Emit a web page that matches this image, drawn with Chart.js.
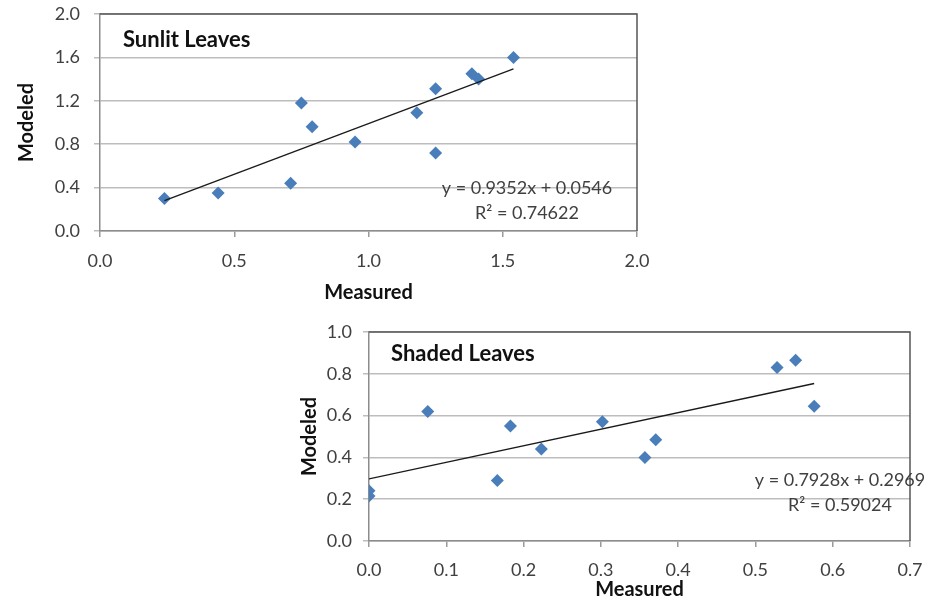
<!DOCTYPE html>
<html>
<head>
<meta charset="utf-8">
<script src="https://cdn.jsdelivr.net/npm/chart.js@4.4.1/dist/chart.umd.min.js"></script>
<style>
  body { margin: 0; background: #fff; }
  .box { position: absolute; }
  #sunBox { left: 0; top: 0; width: 660px; height: 305px; }
  #shadeBox { left: 290px; top: 320px; width: 653px; height: 284px; }
</style>
</head>
<body>
<div class="box" id="sunBox"><canvas id="sunChart"></canvas></div>
<div class="box" id="shadeBox"><canvas id="shadeChart"></canvas></div>
<script>
// sunlit leaves
const sunMeasured = [0.24, 0.44, 0.71, 0.75, 0.79, 0.95, 1.18, 1.25, 1.25, 1.385, 1.41, 1.54]
const sunModeled  = [0.30, 0.35, 0.44, 1.18, 0.96, 0.82, 1.09, 0.72, 1.31, 1.45, 1.40, 1.60]
const sunFit = [0.9352, 0.0546]
const sunXTicks = [0, 0.5, 1.0, 1.5, 2.0]
const sunYTicks = [0, 0.4, 0.8, 1.2, 1.6, 2.0]

// shaded leaves
const shadeMeasured = [0.0, 0.0, 0.076, 0.166, 0.183, 0.223, 0.302, 0.357, 0.371, 0.528, 0.552, 0.576]
const shadeModeled  = [0.24, 0.215, 0.62, 0.29, 0.55, 0.44, 0.57, 0.40, 0.485, 0.83, 0.865, 0.645]
const shadeFit = [0.7928, 0.2969]
const shadeXTicks = [0, 0.1, 0.2, 0.3, 0.4, 0.5, 0.6, 0.7]
const shadeYTicks = [0, 0.2, 0.4, 0.6, 0.8, 1.0]

const FONT = 'Lato, "Open Sans", sans-serif'
const TXT = '#404040'

const labelsPlugin = {
  id: 'labels',
  afterDraw(chart, args, opts) {
    const ctx = chart.ctx
    const a = chart.chartArea
    ctx.save()
    // plot frame, top and right
    ctx.strokeStyle = '#555'
    ctx.lineWidth = 1.5
    ctx.beginPath()
    ctx.moveTo(a.left, a.top)
    ctx.lineTo(a.right, a.top)
    ctx.lineTo(a.right, a.bottom)
    ctx.stroke()

    ctx.fillStyle = '#111'
    ctx.font = 'bold 22px ' + FONT
    ctx.textAlign = 'left'
    ctx.textBaseline = 'middle'
    ctx.fillText(opts.title, opts.titleAt[0], opts.titleAt[1])

    ctx.fillStyle = TXT
    ctx.font = '18px ' + FONT
    ctx.textAlign = 'center'
    ctx.fillText(opts.eq, opts.eqAt[0], opts.eqAt[1])
    ctx.fillText(opts.r2, opts.eqAt[0], opts.eqAt[1] + 25)
    ctx.restore()
  }
}

function trend(fit, xs) {
  let lo = Math.min(...xs), hi = Math.max(...xs)
  return [{x: lo, y: fit[0] * lo + fit[1]}, {x: hi, y: fit[0] * hi + fit[1]}]
}

function makeChart(id, c) {
  const pts = c.xs.map((x, i) => ({x: x, y: c.ys[i]}))
  return new Chart(document.getElementById(id), {
    type: 'scatter',
    data: {
      datasets: [
        {
          type: 'line',
          data: trend(c.fit, c.xs),
          borderColor: '#1a1a1a',
          borderWidth: 1.3,
          pointRadius: 0,
          order: 0
        },
        {
          data: pts,
          pointStyle: 'rectRot',
          pointRadius: 6.5,
          backgroundColor: '#4a7ebb',
          borderColor: '#4a7ebb',
          borderWidth: 0,
          order: 1
        }
      ]
    },
    options: {
      responsive: true,
      maintainAspectRatio: false,
      animation: false,
      layout: { padding: c.pad },
      plugins: {
        legend: { display: false },
        tooltip: { enabled: false },
        labels: c.labels
      },
      scales: {
        x: {
          type: 'linear',
          min: c.xTicks[0],
          max: c.xTicks[c.xTicks.length - 1],
          afterBuildTicks: s => { s.ticks = c.xTicks.map(v => ({value: v})) },
          afterFit: s => { s.height = c.xH; s.paddingLeft = 0; s.paddingRight = 0 },
          grid: { drawOnChartArea: false, drawTicks: true, tickLength: 6, color: '#9a9a9a', lineWidth: 1.5 },
          border: { color: '#8c8c8c', width: 1.5 },
          ticks: { color: TXT, font: { family: FONT, size: 18 }, padding: c.xPad, maxRotation: 0,
                   callback: v => v.toFixed(1) },
          title: { display: true, text: 'Measured', color: '#111',
                   font: { family: FONT, size: 20, weight: 'bold' }, padding: { top: 0, bottom: c.xTitlePad } }
        },
        y: {
          min: c.yTicks[0],
          max: c.yTicks[c.yTicks.length - 1],
          afterBuildTicks: s => { s.ticks = c.yTicks.map(v => ({value: v})) },
          afterFit: s => { s.width = c.yW; s.paddingTop = 0; s.paddingBottom = 0 },
          grid: { color: '#bdbdbd', lineWidth: 1.5, tickLength: 6 },
          border: { color: '#8c8c8c', width: 1.5 },
          ticks: { color: TXT, font: { family: FONT, size: 18 }, padding: c.yPad,
                   callback: v => v.toFixed(1) },
          title: { display: true, text: 'Modeled', color: '#111',
                   font: { family: FONT, size: 20, weight: 'bold' }, padding: { top: c.yTitlePad, bottom: 0 } }
        }
      }
    },
    plugins: [labelsPlugin]
  })
}

makeChart('sunChart', {
  xs: sunMeasured, ys: sunModeled, fit: sunFit,
  xTicks: sunXTicks, yTicks: sunYTicks,
  pad: { top: 14, right: 23, left: 0, bottom: 0 },
  xH: 74, yW: 100, xPad: 13, yPad: 14, xTitlePad: 0, yTitlePad: 15,
  labels: { title: 'Sunlit Leaves', titleAt: [123, 40], eq: 'y = 0.9352x + 0.0546', r2: 'R² = 0.74622', eqAt: [527, 188] }
})

makeChart('shadeChart', {
  xs: shadeMeasured, ys: shadeModeled, fit: shadeFit,
  xTicks: shadeXTicks, yTicks: shadeYTicks,
  pad: { top: 12, right: 33, left: 0, bottom: 0 },
  xH: 63, yW: 79, xPad: 12, yPad: 11, xTitlePad: 2, yTitlePad: 8,
  labels: { title: 'Shaded Leaves', titleAt: [101, 34], eq: 'y = 0.7928x + 0.2969', r2: 'R² = 0.59024', eqAt: [550, 160] }
})
</script>
</body>
</html>
